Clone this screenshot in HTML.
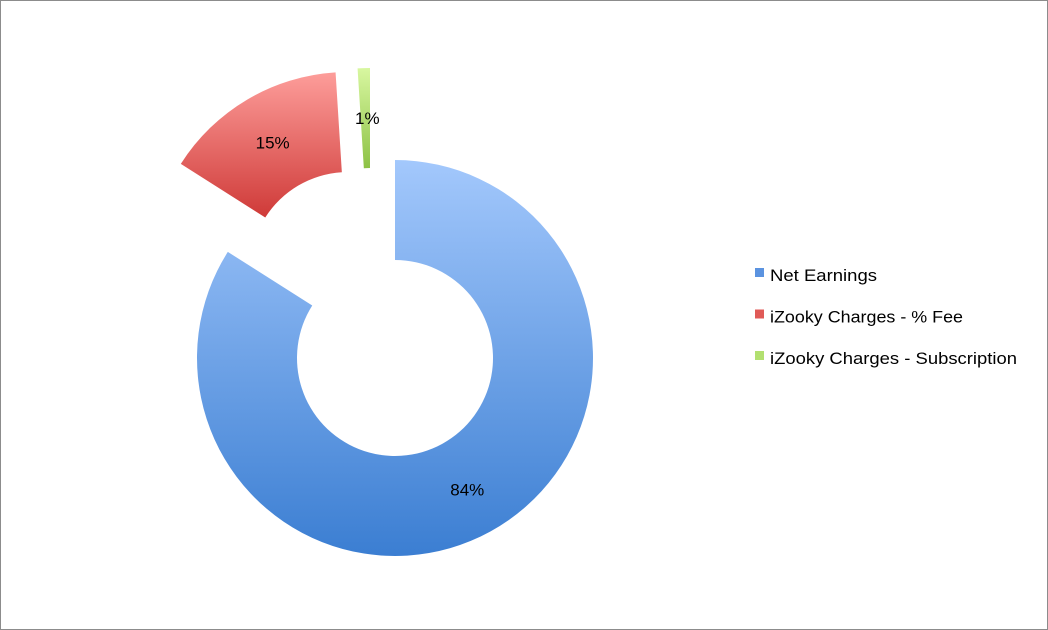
<!DOCTYPE html>
<html><head><meta charset="utf-8"><style>
body{margin:0;background:#fff}
#chart{position:relative;width:1046px;height:628px;border:1px solid #8c8c8c;font-family:"Liberation Sans",sans-serif}
svg{position:absolute;left:0;top:0}
</style></head><body>
<div id="chart">
<svg id="svg" width="1046" height="628">
<defs>
<linearGradient id="g0" x1="0" y1="0" x2="0" y2="1"><stop offset="0" stop-color="#a3c8fc"/><stop offset="1" stop-color="#3b7ed2"/></linearGradient>
<linearGradient id="g1" x1="0" y1="0" x2="0" y2="1"><stop offset="0" stop-color="#fd9d9a"/><stop offset="1" stop-color="#cf3a38"/></linearGradient>
<linearGradient id="g2" x1="0" y1="0" x2="0" y2="1"><stop offset="0" stop-color="#d8f7a0"/><stop offset="1" stop-color="#8dc246"/></linearGradient>
</defs>
</svg>
</div>
<script>
const categories=["Net Earnings","iZooky Charges - % Fee","iZooky Charges - Subscription"];
const values=[84,15,1];
const labels=["84%","15%","1%"];
const NS="http://www.w3.org/2000/svg";
const svg=document.getElementById('svg');
const cx=394,cy=357,R=198,r=98;
const offsets=[[0,0],[-47,-88],[-25,-92]];
const labelR=[150,148,150];
const fills=["url(#g0)","url(#g1)","url(#g2)"];
const legendColors=["#5b93e0","#e05a57","#b2e070"];
const legendWidths=[107,193,247];
const total=values.reduce((a,b)=>a+b,0);
function pt(a,rad,o){return [cx+o[0]+rad*Math.sin(a),cy+o[1]-rad*Math.cos(a)];}
let acc=0;
values.forEach((v,i)=>{
  const a0=acc/total*2*Math.PI, a1=(acc+v)/total*2*Math.PI; acc+=v;
  const o=offsets[i], large=(a1-a0)>Math.PI?1:0;
  const p1=pt(a0,R,o),p2=pt(a1,R,o),p3=pt(a1,r,o),p4=pt(a0,r,o);
  const p=document.createElementNS(NS,'path');
  p.setAttribute('d',`M${p1}A${R},${R} 0 ${large} 1 ${p2}L${p3}A${r},${r} 0 ${large} 0 ${p4}Z`);
  p.setAttribute('fill',fills[i]);
  
  
  svg.appendChild(p);
});
acc=0;
values.forEach((v,i)=>{
  const am=(acc+v/2)/total*2*Math.PI; acc+=v;
  const o=offsets[i];
  let q=pt(am,labelR[i],o);
  if(i===2){q=[q[0]+2,q[1]+2];}
  const t=document.createElementNS(NS,'text');
  t.setAttribute('x',q[0]);t.setAttribute('y',q[1]+6);
  t.setAttribute('text-anchor','middle');t.setAttribute('font-size','17');
  t.setAttribute('fill','#000');
  t.textContent=labels[i];
  
  
  svg.appendChild(t);
});
categories.forEach((c,i)=>{
  const y=274+i*41.5;
  const s=document.createElementNS(NS,'rect');
  s.setAttribute('x',754);s.setAttribute('y',y-7);s.setAttribute('width',9);s.setAttribute('height',9);
  s.setAttribute('fill',legendColors[i]);
  
  
  svg.appendChild(s);
  const t=document.createElementNS(NS,'text');
  t.setAttribute('x',769);t.setAttribute('y',y+6);t.setAttribute('font-size','17');
  t.setAttribute('textLength',legendWidths[i]);
  t.setAttribute('lengthAdjust','spacingAndGlyphs');
  t.textContent=c;
  
  
  svg.appendChild(t);
});
</script>
</body></html>
